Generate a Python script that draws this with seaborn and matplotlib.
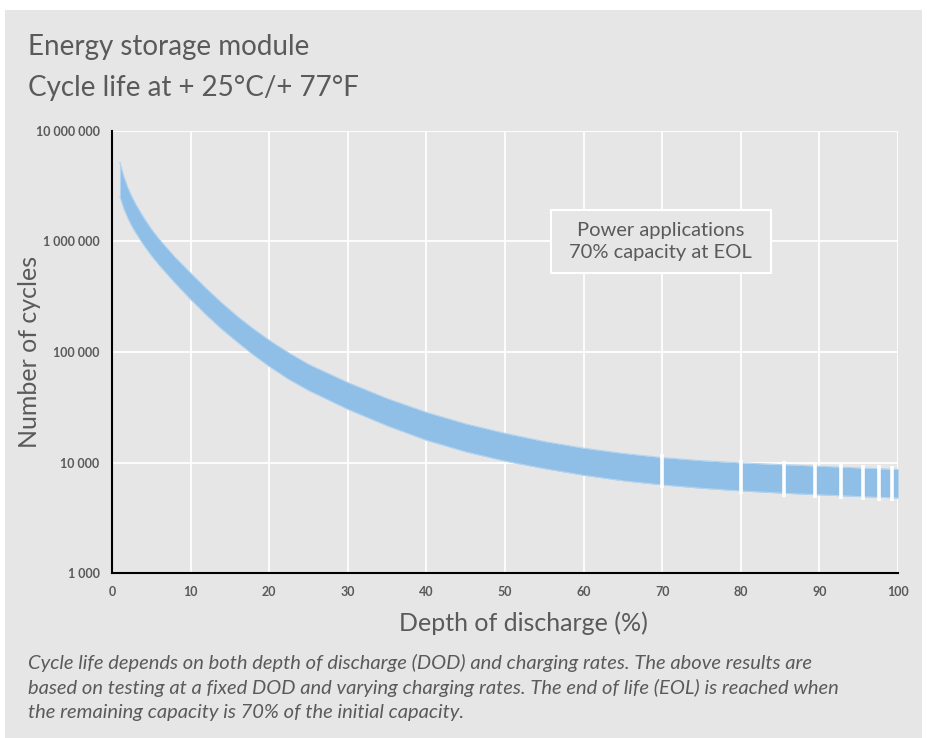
import numpy as np
import pandas as pd
import seaborn as sns
import matplotlib.pyplot as plt
from matplotlib.patches import Rectangle

# Depth of discharge (%) and the cycle-life band
dod = [1, 1.5, 2, 2.5, 3, 4, 5, 6, 8, 10, 12, 14, 16, 18, 20, 22.5, 25, 30, 35,
       40, 45, 50, 55, 60, 65, 70, 75, 80, 85.5, 89.5, 92.8, 95.5, 97.6, 99.2, 100]
cycles_high = [5190000, 3890000, 3090000, 2570000, 2190000, 1660000, 1300000,
               1050000, 724000, 519000, 376000, 277000, 209000, 162000, 128000,
               98200, 77500, 53000, 38000, 28500, 22400, 18400, 15500, 13500,
               12100, 11100, 10400, 9930, 9550, 9290, 9080, 8910, 8790, 8710, 8670]
cycles_low = [2550000, 1980000, 1630000, 1380000, 1205000, 935000, 746000,
              610000, 422000, 299000, 216000, 160000, 122000, 94000, 74000,
              56500, 44900, 30300, 21500, 15900, 12500, 10300, 8810, 7670,
              6840, 6270, 5850, 5530, 5270, 5120, 5000, 4910, 4840, 4800, 4780]
# points where the band is broken into separate blocks
breaks = [70, 80, 85.5, 89.5, 92.8, 95.5, 97.6, 99.2]

y_ticks = [1e3, 1e4, 1e5, 1e6, 1e7]
y_labels = ["1 000", "10 000", "100 000", "1 000 000", "10 000 000"]
x_ticks = list(range(0, 101, 10))

bg = "#e6e6e6"
band = "#8fbee6"
txt = "#5a5a5a"

df = pd.DataFrame({"dod": dod, "high": cycles_high, "low": cycles_low})

sns.set_style("white")
plt.rcParams["font.family"] = ["Lato", "DejaVu Sans"]

fig = plt.figure(figsize=(9.27, 7.38), dpi=100)
fig.patch.set_facecolor("white")
fig.patches.append(Rectangle((5 / 927, 0), 917 / 927, 728 / 738,
                             transform=fig.transFigure, facecolor=bg,
                             edgecolor="none", zorder=-10))

ax = fig.add_axes([112 / 927, 1 - 573 / 738, 786 / 927, 442 / 738])
ax.set_facecolor(bg)

ax.fill_between(df["dod"], df["low"], df["high"], color=band, lw=0, zorder=2)
sns.lineplot(data=df, x="dod", y="high", ax=ax, color="#b3d4f0", lw=0.8, zorder=2.5)
sns.lineplot(data=df, x="dod", y="low", ax=ax, color="#b3d4f0", lw=0.8, zorder=2.5)
# left cap of the band
ax.vlines(df["dod"].iloc[0], df["low"].iloc[0], df["high"].iloc[0],
          color="#b3d4f0", lw=0.8, zorder=2.5)

brk = df[df["dod"].isin(breaks)]
ax.vlines(brk["dod"], brk["low"] * 0.93, brk["high"] * 1.07, color="white",
          lw=2.6, zorder=3)

ax.set_yscale("log")
ax.set_xlim(0, 100)
ax.set_ylim(1e3, 1e7)
ax.set_xticks(x_ticks)
ax.set_xticklabels([str(v) for v in x_ticks])
ax.set_yticks(y_ticks)
ax.set_yticklabels(y_labels)
ax.yaxis.set_minor_locator(plt.NullLocator())
ax.tick_params(length=0, labelsize=9, labelcolor=txt, pad=9)
for lab in ax.get_xticklabels() + ax.get_yticklabels():
    lab.set_fontweight("bold")
ax.grid(True, color="white", lw=1.3, zorder=0)
ax.set_axisbelow(True)

for s in ["top", "right"]:
    ax.spines[s].set_visible(False)
for s in ["left", "bottom"]:
    ax.spines[s].set_color("black")
    ax.spines[s].set_linewidth(1.5)
    ax.spines[s].set_zorder(4)

ax.set_xlabel("Depth of discharge (%)", fontsize=18, color=txt)
ax.xaxis.set_label_coords((523 - 112) / 786, -0.087)
ax.set_ylabel("Number of cycles", fontsize=18, color=txt)
ax.yaxis.set_label_coords(-0.09, 0.5)

ax.text(69.8, 1.0e6, "Power applications\n70% capacity at EOL", ha="center",
        va="center", fontsize=14.5, color=txt, linespacing=1.3, zorder=5,
        bbox=dict(boxstyle="square,pad=0.92", fc=bg, ec="white", lw=1.5,
                  mutation_aspect=0.66))

fig.text(28 / 927, 1 - 47 / 738, "Energy storage module", fontsize=20,
         color=txt, va="center", ha="left")
fig.text(28 / 927, 1 - 88 / 738, "Cycle life at + 25°C/+ 77°F", fontsize=20,
         color=txt, va="center", ha="left")

caption = ("Cycle life depends on both depth of discharge (DOD) and charging rates. "
           "The above results are\nbased on testing at a fixed DOD and varying "
           "charging rates. The end of life (EOL) is reached when\nthe remaining "
           "capacity is 70% of the initial capacity.")
fig.text(28 / 927, 1 - 654 / 738, caption, fontsize=14.5, style="italic",
         color=txt, va="top", ha="left", linespacing=1.47)

fig.savefig("out.png", dpi=100, facecolor=fig.get_facecolor())
